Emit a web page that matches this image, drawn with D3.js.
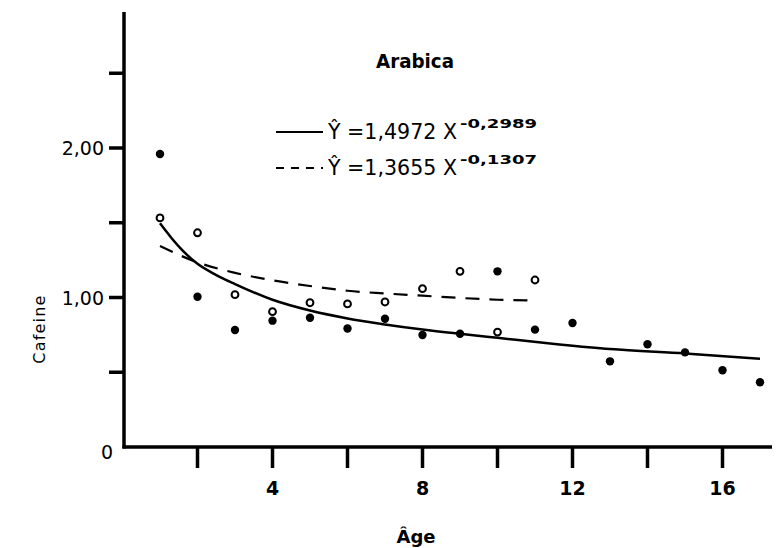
<!DOCTYPE html>
<html><head><meta charset="utf-8">
<script src="https://cdn.jsdelivr.net/npm/d3@7"></script>
<style>
html,body{margin:0;padding:0;background:#fff;}
svg{display:block;}
text{font-family:"DejaVu Sans",sans-serif;fill:#000;}
</style></head>
<body><svg id="c" width="780" height="548"></svg>
<script>
// ---- data ----
const ages = [1,2,3,4,5,6,7,8,9,10,11,12,13,14,15,16,17];
const filledValues = [1.96,1.005,0.783,0.845,0.865,0.793,0.858,0.749,0.758,1.175,0.785,0.829,0.573,0.687,0.633,0.513,0.433];
const openAges = [1,2,3,4,5,6,7,8,9,10,11];
const openValues = [1.532,1.433,1.019,0.905,0.965,0.957,0.97,1.059,1.175,0.769,1.117];
// fitted curves as drawn
const solidX = [1,1.3,1.6,2,2.5,3,4,5,6,7,8,9,10,11.65,13,15,17];
const solidY = [1.496,1.40,1.315,1.225,1.15,1.09,0.985,0.913,0.86,0.82,0.786,0.757,0.73,0.686,0.655,0.625,0.59];
const dashedX = [1,2,3,4,5,6,7,8,9,10,11];
const dashedY = [1.344,1.235,1.165,1.115,1.077,1.045,1.027,1.012,0.997,0.985,0.98];
const xTicks = [2,4,6,8,10,12,14,16];
const xTickLabels = {4:"4",8:"8",12:"12",16:"16"};
const yTicks = [0.5,1,1.5,2,2.5];
const yTickLabels = {1:"1,00",2:"2,00"};
const title = "Arabica";
const legend1 = {main:"Ŷ =1,4972 X", exp:"-0,2989"};
const legend2 = {main:"Ŷ =1,3655 X", exp:"-0,1307"};

const svg = d3.select("#c");
const x = d3.scaleLinear().domain([0,17]).range([122.5,760]);
const y = d3.scaleLinear().domain([0,1]).range([447,297.5]);
const axisX0 = 124;

// axes lines
svg.append("line").attr("x1",axisX0).attr("x2",axisX0).attr("y1",12).attr("y2",y(0)+1.5)
  .attr("stroke","#000").attr("stroke-width",3.5);
svg.append("line").attr("x1",axisX0-1.5).attr("x2",772).attr("y1",y(0)).attr("y2",y(0))
  .attr("stroke","#000").attr("stroke-width",3.5);

// y ticks
svg.selectAll(".yt").data(yTicks).enter().append("line")
  .attr("x1",axisX0-15).attr("x2",axisX0).attr("y1",d=>y(d)).attr("y2",d=>y(d))
  .attr("stroke","#000").attr("stroke-width",3.5);
svg.selectAll(".ytl").data(yTicks.filter(d=>yTickLabels[d])).enter().append("text")
  .attr("x",104).attr("y",d=>y(d)+7).attr("text-anchor","end")
  .attr("font-size",19).text(d=>yTickLabels[d]);
svg.append("text").attr("x",107).attr("y",y(0)+12).attr("text-anchor","middle")
  .attr("font-size",19).text("0");

// x ticks
svg.selectAll(".xt").data(xTicks).enter().append("line")
  .attr("x1",d=>x(d)).attr("x2",d=>x(d)).attr("y1",y(0)).attr("y2",y(0)+21)
  .attr("stroke","#000").attr("stroke-width",3.5);
svg.selectAll(".xtl").data(xTicks.filter(d=>xTickLabels[d])).enter().append("text")
  .attr("x",d=>x(d)).attr("y",495).attr("text-anchor","middle")
  .attr("font-size",19).attr("font-weight","bold").text(d=>xTickLabels[d]);

// axis titles
svg.append("text").attr("x",416).attr("y",543).attr("text-anchor","middle")
  .attr("font-size",18).attr("font-weight","bold").text("Âge");
svg.append("text").attr("transform","translate(45,329) rotate(-90)")
  .attr("text-anchor","middle").attr("font-size",16).attr("letter-spacing",1.2).text("Cafeine");

// curves
const line = (xs,ys)=>d3.line().x(d=>x(d[0])).y(d=>y(d[1])).curve(d3.curveMonotoneX)(xs.map((v,i)=>[v,ys[i]]));
svg.append("path").attr("d",line(solidX,solidY)).attr("fill","none").attr("stroke","#000").attr("stroke-width",2.5);
svg.append("path").attr("d",line(dashedX,dashedY)).attr("fill","none").attr("stroke","#000")
  .attr("stroke-width",2.2).attr("stroke-dasharray","14,10");

// points
svg.selectAll(".pf").data(ages).enter().append("circle")
  .attr("cx",d=>x(d)).attr("cy",(d,i)=>y(filledValues[i])).attr("r",4.2).attr("fill","#000");
svg.selectAll(".po").data(openAges).enter().append("circle")
  .attr("cx",d=>x(d)).attr("cy",(d,i)=>y(openValues[i])).attr("r",3.4)
  .attr("fill","#fff").attr("stroke","#000").attr("stroke-width",2);

// title
svg.append("text").attr("x",376).attr("y",68).attr("font-size",20).attr("font-weight","bold")
  .attr("textLength",78).attr("lengthAdjust","spacingAndGlyphs").text(title);

// legend
function legendRow(yb, item, dashed){
  svg.append("line").attr("x1",276).attr("x2",323).attr("y1",yb-7).attr("y2",yb-7)
    .attr("stroke","#000").attr("stroke-width",2.2).attr("stroke-dasharray",dashed?"8,7":null);
  svg.append("text").attr("x",328).attr("y",yb).attr("font-size",21)
    .attr("textLength",129).attr("lengthAdjust","spacingAndGlyphs").text(item.main);
  svg.append("text").attr("x",460).attr("y",yb-11).attr("font-size",12).attr("font-weight","bold")
    .attr("textLength",77).attr("lengthAdjust","spacingAndGlyphs").text(item.exp);
}
legendRow(139, legend1, false);
legendRow(175, legend2, true);
</script></body></html>
